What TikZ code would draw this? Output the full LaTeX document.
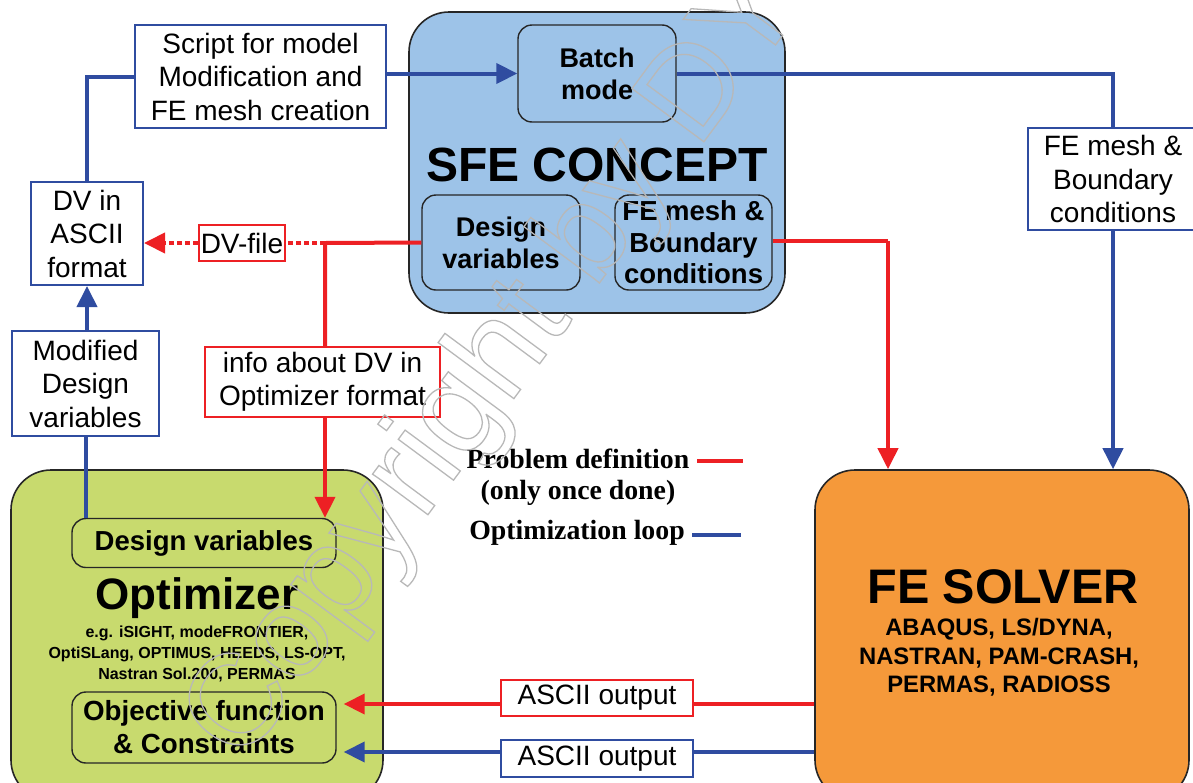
\documentclass[tikz,border=0pt]{standalone}
\usepackage{fontspec}
\setmainfont{Liberation Sans}
\newfontfamily\legendfont{Liberation Serif}
\usetikzlibrary{arrows.meta}
\definecolor{lblue}{RGB}{157,195,232}
\definecolor{lgreen}{RGB}{200,218,110}
\definecolor{orng}{RGB}{245,153,58}
\definecolor{bl}{RGB}{47,76,160}
\definecolor{rd}{RGB}{237,32,36}
\newcommand{\fs}[2]{\fontsize{#1}{#2}\selectfont}
\begin{document}
\begin{tikzpicture}[x=1pt,y=-1pt,
  bigbox/.style={draw=black!85,line width=1.6pt,rounded corners=40pt,inner sep=0pt},
  innerbox/.style={draw=black!85,line width=1.4pt,rounded corners=14pt,inner sep=0pt,align=center,font=\bfseries\fs{27}{32}},
  lbox/.style={draw=bl,line width=2pt,fill=white,inner sep=0pt,align=center,font=\fs{28}{33.5}},
  rbox/.style={lbox,draw=rd},
  bline/.style={draw=bl,line width=4pt},
  rline/.style={draw=rd,line width=4pt},
  arr/.style={-{Triangle[length=21pt,width=20pt]}},
  legend/.style={font=\legendfont\bfseries\fs{27.8}{30},inner sep=0pt}
]
\useasboundingbox (0,0) rectangle (1193,782);
% big boxes
\node[bigbox,fill=lblue,minimum width=376pt,minimum height=301pt] (sfe) at (597,162.5) {};
\node[bigbox,fill=lgreen,minimum width=372pt,minimum height=330pt] (opt) at (197,635) {};
\node[bigbox,fill=orng,minimum width=374pt,minimum height=330pt] (solver) at (1002,635) {};
% inner boxes of SFE
\node[innerbox,minimum width=158pt,minimum height=97pt] (batch) at (597,73.5) {Batch\\mode};
\node[font=\bfseries\fs{48}{50},inner sep=0pt] (sfetitle) at (597,165) {SFE CONCEPT};
\node[innerbox,minimum width=158pt,minimum height=95pt] (sdv) at (501,242.5) {Design\\variables};
\node[innerbox,minimum width=157pt,minimum height=95pt,font=\bfseries\fs{27.5}{31.5}] (sfem) at (693.5,242.5) {FE mesh \&\\Boundary\\conditions};
% optimizer
\node[innerbox,minimum width=264pt,minimum height=49pt,font=\bfseries\fs{27.5}{32}] (odv) at (204,543) {Design variables};
\node[font=\bfseries\fs{44}{46},inner sep=0pt] (opttitle) at (197,598) {Optimizer};
\node[font=\bfseries\fs{16}{21},inner sep=0pt,align=center] (optlist) at (197,654) {e.g. iSIGHT, modeFRONTIER,\\OptiSLang, OPTIMUS, HEEDS, LS-OPT,\\Nastran Sol.200, PERMAS};
\node[innerbox,minimum width=264pt,minimum height=71pt,font=\bfseries\fs{27.7}{33}] (obj) at (204,727.5) {Objective function\\\& Constraints};
% solver
\node[font=\bfseries\fs{48.5}{50},inner sep=0pt] (soltitle) at (1003,587) {FE SOLVER};
\node[font=\bfseries\fs{23.8}{28.5},inner sep=0pt,align=center] (sollist) at (999,657.5) {ABAQUS, LS/DYNA,\\NASTRAN, PAM-CRASH,\\PERMAS, RADIOSS};
% label boxes
\node[lbox,minimum width=251pt,minimum height=103pt] (script) at (260.5,76.5) {Script for model\\Modification and\\FE mesh creation};
\node[lbox,minimum width=112pt,minimum height=103pt] (dvascii) at (87,233.5) {DV in\\ASCII\\format};
\node[rbox,minimum width=86pt,minimum height=36pt] (dvfile) at (242,243) {DV-file};
\node[lbox,minimum width=147pt,minimum height=105pt] (modified) at (85.5,383.5) {Modified\\Design\\variables};
\node[rbox,minimum width=235pt,minimum height=70pt] (info) at (322.5,382) {info about DV in\\Optimizer format};
\node[lbox,minimum width=170pt,minimum height=102pt] (femlabel) at (1113,179) {FE mesh \&\\Boundary\\conditions};
\node[rbox,minimum width=192pt,minimum height=36pt] (ascii1) at (597,698) {ASCII output};
\node[lbox,minimum width=192pt,minimum height=37pt] (ascii2) at (597,758.5) {ASCII output};
% junction coordinates
\coordinate (rj) at (325,243);
\coordinate (rd1) at (888,241);
\coordinate (ry) at (0,704);
\coordinate (by) at (0,752);
% blue connectors
\draw[bline,arr] (script.east |- batch.west) -- (batch.west);
\draw[bline] (script.west) -| (dvascii.north);
\draw[bline,arr] (modified.north -| dvascii.south) -- (dvascii.south);
\draw[bline] (modified.south) -- (modified.south |- odv.north);
\draw[bline] (batch.east) -| (femlabel.north);
\draw[bline,arr] (femlabel.south) -- (femlabel.south |- solver.north);
\draw[bline] (solver.west |- by) -- (ascii2.east |- by);
\draw[bline,arr,shorten >=7pt] (ascii2.west |- by) -- (obj.east |- by);
% red connectors
\draw[rline] (sdv.west) -- (rj) -- (rj |- info.north);
\draw[rline,arr] (rj |- info.south) -- (rj |- odv.north);
\draw[rline,dash pattern=on 5pt off 3pt] (rj) -- (dvfile.east);
\draw[rline,arr,dash pattern=on 5pt off 3pt] (dvfile.west) -- (dvascii.east |- dvfile.west);
\draw[rline] (sfem.east |- rd1) -- (rd1);
\draw[rline,arr] (rd1) -- (rd1 |- solver.north);
\draw[rline] (solver.west |- ry) -- (ascii1.east |- ry);
\draw[rline,arr,shorten >=7pt] (ascii1.west |- ry) -- (obj.east |- ry);
% legend
\node[legend] (leg1) at (578,459) {Problem definition};
\node[legend] (leg2) at (578,493) {(only once done)};
\node[legend] (leg3) at (577,533) {Optimization loop};
\coordinate (lr1) at (697,461);
\coordinate (lr2) at (743,461);
\coordinate (lb1) at (692,535);
\coordinate (lb2) at (741,535);
\draw[rline] (lr1) -- (lr2);
\draw[bline] (lb1) -- (lb2);
% watermark
\begin{scope}
\node[rotate=53.5,anchor=base west,inner sep=0pt,text=black!28,font=\fs{130}{130}] (wm) at (242,766) {\special{pdf:literal 1 Tr 1.3 w}Copyright by DY\special{pdf:literal 0 Tr}};
\end{scope}
\end{tikzpicture}
\end{document}
